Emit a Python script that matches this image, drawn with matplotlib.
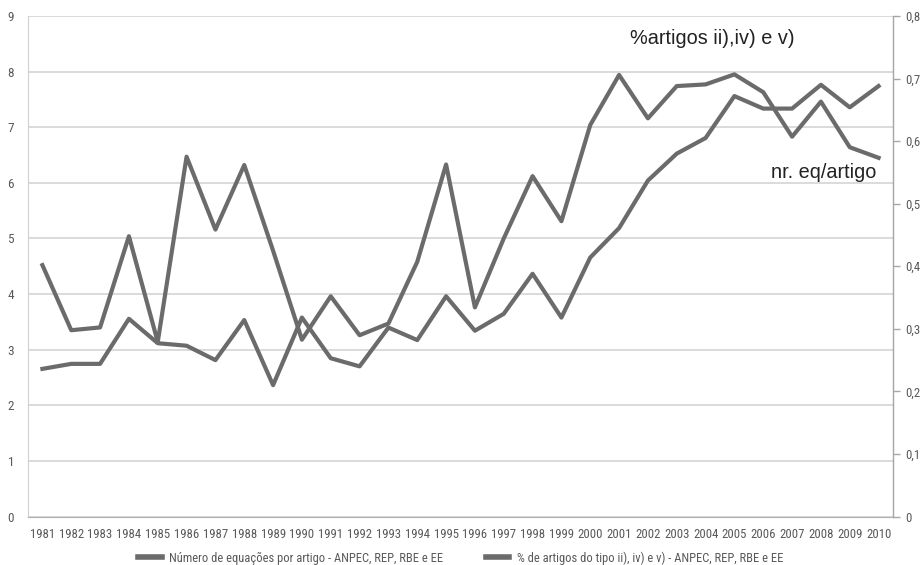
import matplotlib
matplotlib.use('Agg')
import matplotlib.pyplot as plt
from matplotlib import font_manager
from matplotlib.ticker import FuncFormatter
import numpy as np

# data
years = list(range(1981, 2011))
eq_por_artigo = [4.52, 3.35, 3.40, 5.04, 3.14, 6.47, 5.16, 6.32, 4.78, 3.18,
                 3.96, 3.26, 3.47, 4.58, 6.33, 3.76, 5.00, 6.12, 5.31, 7.04,
                 7.94, 7.16, 7.74, 7.77, 7.95, 7.63, 6.83, 7.46, 6.64, 6.45]
pct_artigos = [0.236, 0.244, 0.244, 0.316, 0.277, 0.273, 0.250, 0.314, 0.210, 0.318,
               0.253, 0.240, 0.302, 0.282, 0.352, 0.297, 0.324, 0.388, 0.318, 0.414,
               0.461, 0.537, 0.580, 0.605, 0.672, 0.652, 0.652, 0.690, 0.654, 0.688]

label_eq = 'Número de equações por artigo - ANPEC, REP, RBE e EE'
label_pct = '% de artigos do tipo ii), iv) e v) - ANPEC, REP, RBE e EE'


def pick_font(names):
    # first installed family from the list
    for n in names:
        try:
            font_manager.findfont(n, fallback_to_default=False)
            return n
        except Exception:
            pass
    return 'DejaVu Sans'


small_font = pick_font(['Liberation Sans Narrow', 'Roboto Condensed', 'Open Sans Condensed',
                        'Noto Sans Condensed', 'Liberation Sans'])
narrow_small = small_font not in ('Liberation Sans', 'DejaVu Sans')
tick_size = 9.2 if narrow_small else 7.0
leg_size = 9.0 if narrow_small else 7.3

line_col = '#6b6b6b'
tick_col = '#595959'

fig = plt.figure(figsize=(9.21, 5.65), dpi=100)
ax = fig.add_axes([0.0304, 0.0858, 0.9392, 0.8859])
ax2 = ax.twinx()

x = np.arange(len(years))
l1, = ax.plot(x, eq_por_artigo, color=line_col, lw=3, label=label_eq)
l2, = ax2.plot(x, pct_artigos, color=line_col, lw=3, label=label_pct)

ax.set_xlim(-0.5, len(years) - 0.5)
ax.set_ylim(0, 9)
ax2.set_ylim(0, 0.8)

ax.set_yticks(range(0, 10))
ax.grid(axis='y', color='#d4d4d4', lw=1.2)
ax.set_axisbelow(True)
ax.set_xticks(x)
ax.set_xticklabels([str(y) for y in years], family=small_font, fontsize=tick_size, color=tick_col)
ax.tick_params(axis='x', length=0, pad=8)
ax.tick_params(axis='y', length=0, pad=10, labelsize=tick_size + 0.3, labelcolor=tick_col)
for lab in ax.get_yticklabels():
    lab.set_family(small_font)

ax2.set_yticks(np.arange(0, 0.81, 0.1))
ax2.yaxis.set_major_formatter(FuncFormatter(lambda v, p: '0' if v == 0 else f'{v:.1f}'.replace('.', ',')))
ax2.tick_params(axis='y', length=5, width=1, color='#a6a6a6', pad=4,
                labelsize=tick_size, labelcolor=tick_col)
for lab in ax2.get_yticklabels():
    lab.set_family(small_font)

for a in (ax, ax2):
    a.spines['top'].set_visible(False)
ax.spines['left'].set_color('#d0d0d0')
ax.spines['bottom'].set_color('#b0b0b0')
ax2.spines['left'].set_visible(False)
ax2.spines['bottom'].set_visible(False)
ax2.spines['right'].set_color('#a6a6a6')

ax.text(0.6955, 0.956, '%artigos ii),iv) e v)', transform=ax.transAxes,
        family='Liberation Sans', fontsize=14.3, color='#222222', va='center', ha='left')
ax.text(0.8595, 0.687, 'nr. eq/artigo', transform=ax.transAxes,
        family='Liberation Sans', fontsize=14.3, color='#222222', va='center', ha='left')

leg = fig.legend(handles=[l1, l2], loc='center', bbox_to_anchor=(0.5, 0.0124), ncol=2,
                 frameon=False, prop={'family': small_font, 'size': leg_size},
                 handlelength=1.9, columnspacing=3.4, handletextpad=0.6)
for t in leg.get_texts():
    t.set_color(tick_col)
for h in leg.legend_handles:
    h.set_linewidth(4)

fig.savefig('out.png', dpi=100)
